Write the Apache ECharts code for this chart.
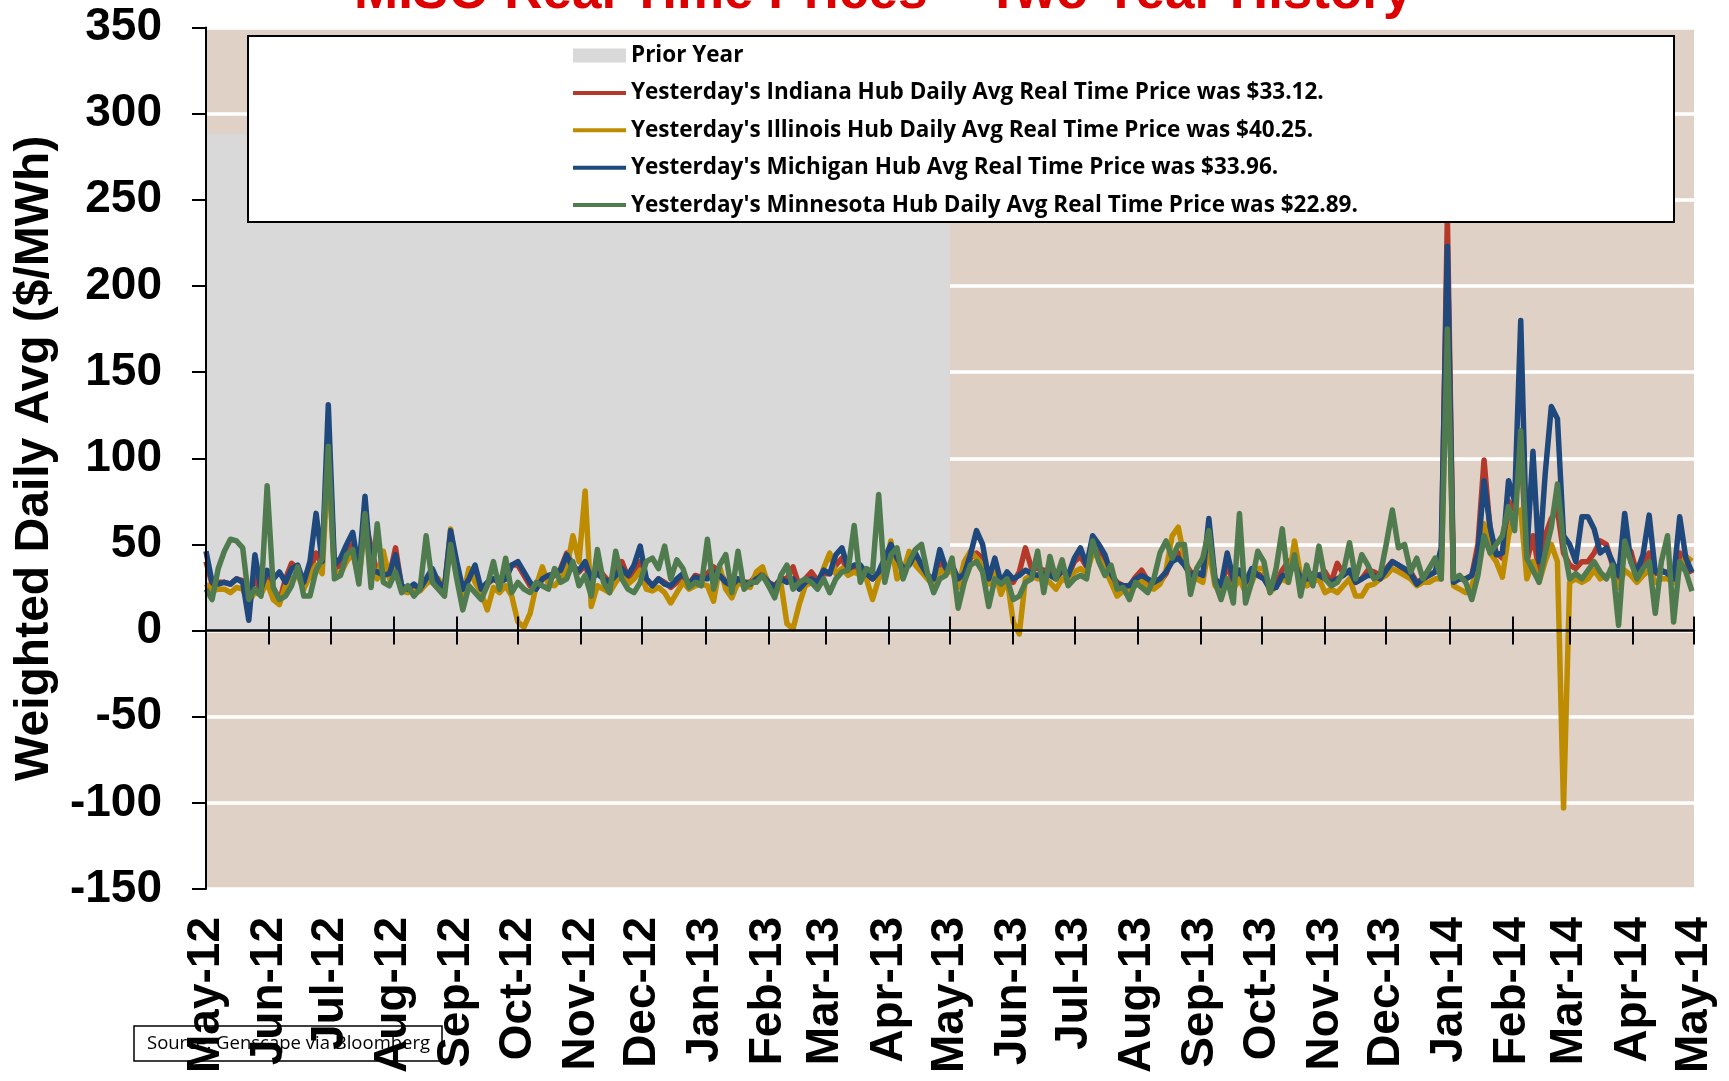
<!DOCTYPE html>
<html><head><meta charset="utf-8">
<script src="https://cdn.jsdelivr.net/npm/echarts@6/dist/echarts.min.js"></script>
<style>html,body{margin:0;padding:0;background:#fff;}#chart{width:1729px;height:1081px;}</style>
</head><body><div id="chart"></div>
<script>
// ---- data ----
const totalDays = 730;            // 2012-05-01 .. 2014-05-01
const sampleStepDays = 3;         // one reading every 3 days
const tickLabels = ['May-12','Jun-12','Jul-12','Aug-12','Sep-12','Oct-12','Nov-12','Dec-12','Jan-13','Feb-13','Mar-13','Apr-13','May-13','Jun-13','Jul-13','Aug-13','Sep-13','Oct-13','Nov-13','Dec-13','Jan-14','Feb-14','Mar-14','Apr-14','May-14'];
const yTicks = [-150,-100,-50,0,50,100,150,200,250,300,350];
const priorYearLevel = 288;
const priorYearEndDay = 365;
const seriesNames = [
  "Prior Year",
  "Yesterday's Indiana Hub Daily Avg Real Time Price was $33.12.",
  "Yesterday's Illinois Hub Daily Avg Real Time Price was $40.25.",
  "Yesterday's Michigan Hub Avg Real Time Price was $33.96.",
  "Yesterday's Minnesota Hub Daily Avg Real Time Price was $22.89."
];
const indiana = [
40,27,28,28,27,30,29,20,30,23,
33,25,17,30,39,36,27,35,45,38,
115,36,38,45,50,33,65,48,33,35,
32,48,25,24,25,25,28,33,27,25,
55,38,22,30,32,24,27,30,28,30,
38,38,32,26,25,30,30,32,36,45,
38,34,38,28,37,32,28,33,40,31,
33,40,30,26,30,28,25,28,32,27,
32,31,33,37,34,28,26,30,28,28,
32,34,28,26,30,30,37,26,30,34,
29,33,33,38,42,34,36,35,32,30,
33,38,48,40,35,40,40,36,32,28,
40,36,38,28,33,42,45,42,29,38,
28,33,28,34,48,36,36,35,34,31,
34,32,40,43,37,48,45,40,32,28,
26,26,31,35,29,26,28,33,42,45,
40,34,33,32,55,30,26,38,28,34,
27,34,33,31,26,28,35,40,42,30,
29,30,32,34,28,39,33,34,28,30,
35,34,32,36,40,38,35,34,28,30,
32,34,38,240,30,30,30,32,50,99,
58,45,42,75,70,110,40,55,35,55,
65,70,45,38,36,40,40,45,52,50,
38,30,45,46,33,38,45,33,34,34,
32,45,40,33.12];
const illinois = [
27,23,24,24,22,25,24,17,22,21,
28,18,15,26,30,32,24,32,38,33,
100,34,33,40,45,30,60,40,30,46,
30,38,23,22,23,23,27,30,30,24,
59,35,20,36,28,22,12,25,22,26,
20,5,2,10,26,37,27,26,30,36,
55,40,81,14,26,24,22,28,33,27,
30,35,24,23,25,22,16,22,28,24,
26,27,26,17,37,24,19,28,26,25,
34,37,26,22,28,4,1,15,26,28,
26,36,45,33,36,32,34,32,30,18,
30,36,52,30,34,46,38,34,30,26,
35,33,35,25,40,46,42,38,27,35,
21,30,5,-2,30,32,30,30,28,24,
30,28,34,36,33,45,42,36,28,20,
23,24,26,30,25,24,27,35,55,60,
42,30,30,28,48,26,22,28,24,30,
22,28,36,36,22,26,30,28,52,32,
26,28,30,22,24,22,26,30,20,20,
26,27,30,32,36,34,32,30,26,28,
28,30,30,195,26,24,22,26,38,62,
45,40,31,55,68,70,30,40,28,40,
50,40,-103,28,30,28,30,35,30,32,
32,25,35,32,28,32,35,28,30,30,
28,36,43,40.25];
const michigan = [
46,28,27,28,27,30,28,6,44,24,
35,30,34,28,36,38,28,40,68,40,
131,38,42,50,57,35,78,35,34,32,
33,44,26,24,27,24,30,36,28,25,
58,40,24,30,38,24,28,30,28,30,
38,40,34,28,24,30,32,33,35,44,
36,35,40,30,33,30,28,32,36,32,
38,49,30,26,30,27,26,30,33,27,
31,30,30,34,32,28,26,30,28,27,
30,32,28,25,30,28,30,24,28,30,
28,35,33,44,48,36,38,38,33,30,
34,42,50,42,36,38,45,38,32,30,
47,36,38,30,33,44,58,50,30,42,
28,34,30,32,35,33,32,33,32,30,
36,32,42,48,38,55,50,44,33,27,
26,26,30,32,30,28,30,34,40,42,
38,32,34,32,65,30,26,45,30,35,
28,36,32,30,24,25,32,32,40,30,
30,33,32,30,28,30,32,35,28,30,
32,32,30,35,40,38,36,33,27,30,
32,34,48,223,28,30,30,32,45,87,
60,44,45,87,75,180,45,104,40,91,
130,123,55,50,40,66,66,59,45,48,
40,32,68,40,34,44,67,34,35,33,
30,66,42,33.96];
const minnesota = [
24,18,36,46,53,52,48,18,24,20,
84,25,18,20,26,37,20,20,35,42,
107,30,32,44,47,27,68,25,62,28,
26,34,22,26,20,24,55,28,24,20,
50,30,12,26,22,18,26,40,24,42,
22,28,24,22,28,26,24,36,28,30,
40,26,32,20,47,28,22,46,30,24,
22,28,40,42,36,49,30,41,36,25,
28,26,53,24,38,44,22,46,24,28,
28,32,26,19,32,38,24,28,30,28,
24,30,22,30,34,35,61,28,36,34,
79,28,44,48,30,40,47,50,33,22,
30,32,42,13,28,38,40,34,14,30,
27,30,18,20,28,30,46,22,43,30,
41,26,30,32,30,52,40,32,38,24,
25,18,28,25,22,30,45,52,42,50,
50,21,36,42,58,28,18,30,16,68,
16,28,46,40,22,36,59,28,44,20,
38,26,49,30,26,28,34,51,30,44,
38,30,32,50,70,48,50,34,42,30,
36,42,30,175,30,32,28,18,32,55,
45,50,55,72,58,116,42,35,28,45,
60,85,50,30,33,30,35,40,34,30,
38,3,52,40,30,36,40,10,40,55,
5,40,34,22.89];

// ---- build ----
const categories = [];
for (let i = 0; i <= totalDays; i++) {
  categories.push(new Date(Date.UTC(2012, 4, 1) + i * 86400000).toISOString().slice(0, 10));
}
const isMonthStart = (idx, val) => val.slice(8) === '01';
const monthLabel = (val) => {
  const y = +val.slice(0, 4), m = +val.slice(5, 7);
  return tickLabels[(y - 2012) * 12 + (m - 5)];
};
const toPairs = arr => arr.map((v, k) => [k * sampleStepDays, v]);
const colors = ['#B5392A', '#BE8C00', '#1F497D', '#4F7B4F'];
const lineData = [indiana, illinois, michigan, minnesota];
const ARIAL = 'Liberation Sans, Arial, sans-serif';
const LINE_ICON = 'path://M0,0 M0,5 L53,5 L53,9 L0,9 Z M53,14';

const chart = echarts.init(document.getElementById('chart'), null, {renderer: 'canvas', width: 1729, height: 1081});
const lineSeries = lineData.map((arr, i) => ({
  name: seriesNames[i + 1], type: 'line', data: toPairs(arr), symbol: 'none', showSymbol: false,
  xAxisIndex: 0, yAxisIndex: 0, z: 2,
  lineStyle: {width: 5.5, color: colors[i], join: 'round'}, itemStyle: {color: colors[i]}
}));

const option = {
  animation: false,
  title: {
    text: 'MISO Real Time Prices – Two Year History', left: 354, top: -33, padding: 0,
    textStyle: {fontFamily: ARIAL, fontWeight: 'bold', fontSize: 53, color: '#DD0000'}
  },
  grid: {left: 206, right: 35, top: 27.5, bottom: 192, show: true, backgroundColor: '#E0D1C6',
         borderWidth: 0, containLabel: false, outerBoundsMode: 'none'},
  legend: {
    data: [{name: seriesNames[0], icon: 'rect'}].concat(seriesNames.slice(1).map(n => ({name: n, icon: LINE_ICON}))),
    orient: 'vertical', left: 573, top: 44, itemWidth: 53, itemHeight: 14, itemGap: 14.4,
    padding: 0, selectedMode: false, z: 20,
    itemStyle: {borderWidth: 0},
    textStyle: {fontFamily: 'Open Sans', fontWeight: 'bold', fontSize: 22.5, lineHeight: 22.5, color: '#000'}
  },
  xAxis: [
    {type: 'category', data: categories, boundaryGap: false, position: 'bottom', z: 5,
     axisLine: {onZero: true, onZeroAxisIndex: 0, lineStyle: {color: '#000', width: 2.5}},
     axisTick: {show: true, interval: isMonthStart, length: 14, inside: false, lineStyle: {color: '#000', width: 2}},
     axisLabel: {show: false}, splitLine: {show: false}},
    {type: 'category', data: categories, boundaryGap: false, position: 'bottom', z: 5,
     axisLine: {show: false, onZero: true, onZeroAxisIndex: 0},
     axisTick: {show: true, interval: isMonthStart, length: 14, inside: true, lineStyle: {color: '#000', width: 2}},
     axisLabel: {show: false}, splitLine: {show: false}},
    {type: 'category', data: categories, boundaryGap: false, position: 'bottom', z: 6,
     axisLine: {show: false, onZero: false}, axisTick: {show: false}, splitLine: {show: false},
     axisLabel: {show: true, interval: isMonthStart, rotate: 90, margin: 28, formatter: monthLabel,
                 fontFamily: ARIAL, fontWeight: 'bold', fontSize: 46, color: '#000'}}
  ],
  yAxis: [
    {type: 'value', min: yTicks[0], max: yTicks[yTicks.length - 1], interval: 50, position: 'left', z: 0,
     axisLine: {show: false}, axisTick: {show: false}, axisLabel: {show: false},
     splitLine: {show: true, lineStyle: {color: '#FFFFFF', width: 3.5}}},
    {type: 'value', min: yTicks[0], max: yTicks[yTicks.length - 1], interval: 50, position: 'left', z: 5,
     axisLine: {show: true, onZero: false, lineStyle: {color: '#000', width: 2}},
     axisTick: {show: true, length: 14, lineStyle: {color: '#000', width: 2}},
     axisLabel: {show: true, margin: 44, fontFamily: ARIAL, fontWeight: 'bold', fontSize: 46, color: '#000'},
     splitLine: {show: false},
     name: 'Weighted Daily Avg ($/MWh)', nameLocation: 'middle', nameGap: 146,
     nameTextStyle: {fontFamily: ARIAL, fontWeight: 'bold', fontSize: 48, color: '#000'}}
  ],
  graphic: [
    {type: 'rect', z: 10, shape: {x: 248, y: 36, width: 1426, height: 186},
     style: {fill: '#FFFFFF', stroke: '#000', lineWidth: 2}},
    {type: 'rect', z: 1, shape: {x: 134, y: 1026, width: 308, height: 35},
     style: {fill: '#FFFFFF', stroke: '#000', lineWidth: 1.5}},
    {type: 'text', z: 2, x: 147, y: 1043.5,
     style: {text: 'Source: Genscape via Bloomberg', font: '18.5px "Open Sans"', fill: '#000', verticalAlign: 'middle'}}
  ],
  series: [
    {name: seriesNames[0], type: 'line', data: [[0, priorYearLevel], [priorYearEndDay, priorYearLevel]],
     symbol: 'none', xAxisIndex: 0, yAxisIndex: 0, z: 1, silent: true,
     lineStyle: {width: 0, color: '#D9D9D9'}, itemStyle: {color: '#D9D9D9'},
     areaStyle: {color: '#D9D9D9', opacity: 1}}
  ].concat(lineSeries)
};
chart.setOption(option);
</script></body></html>
